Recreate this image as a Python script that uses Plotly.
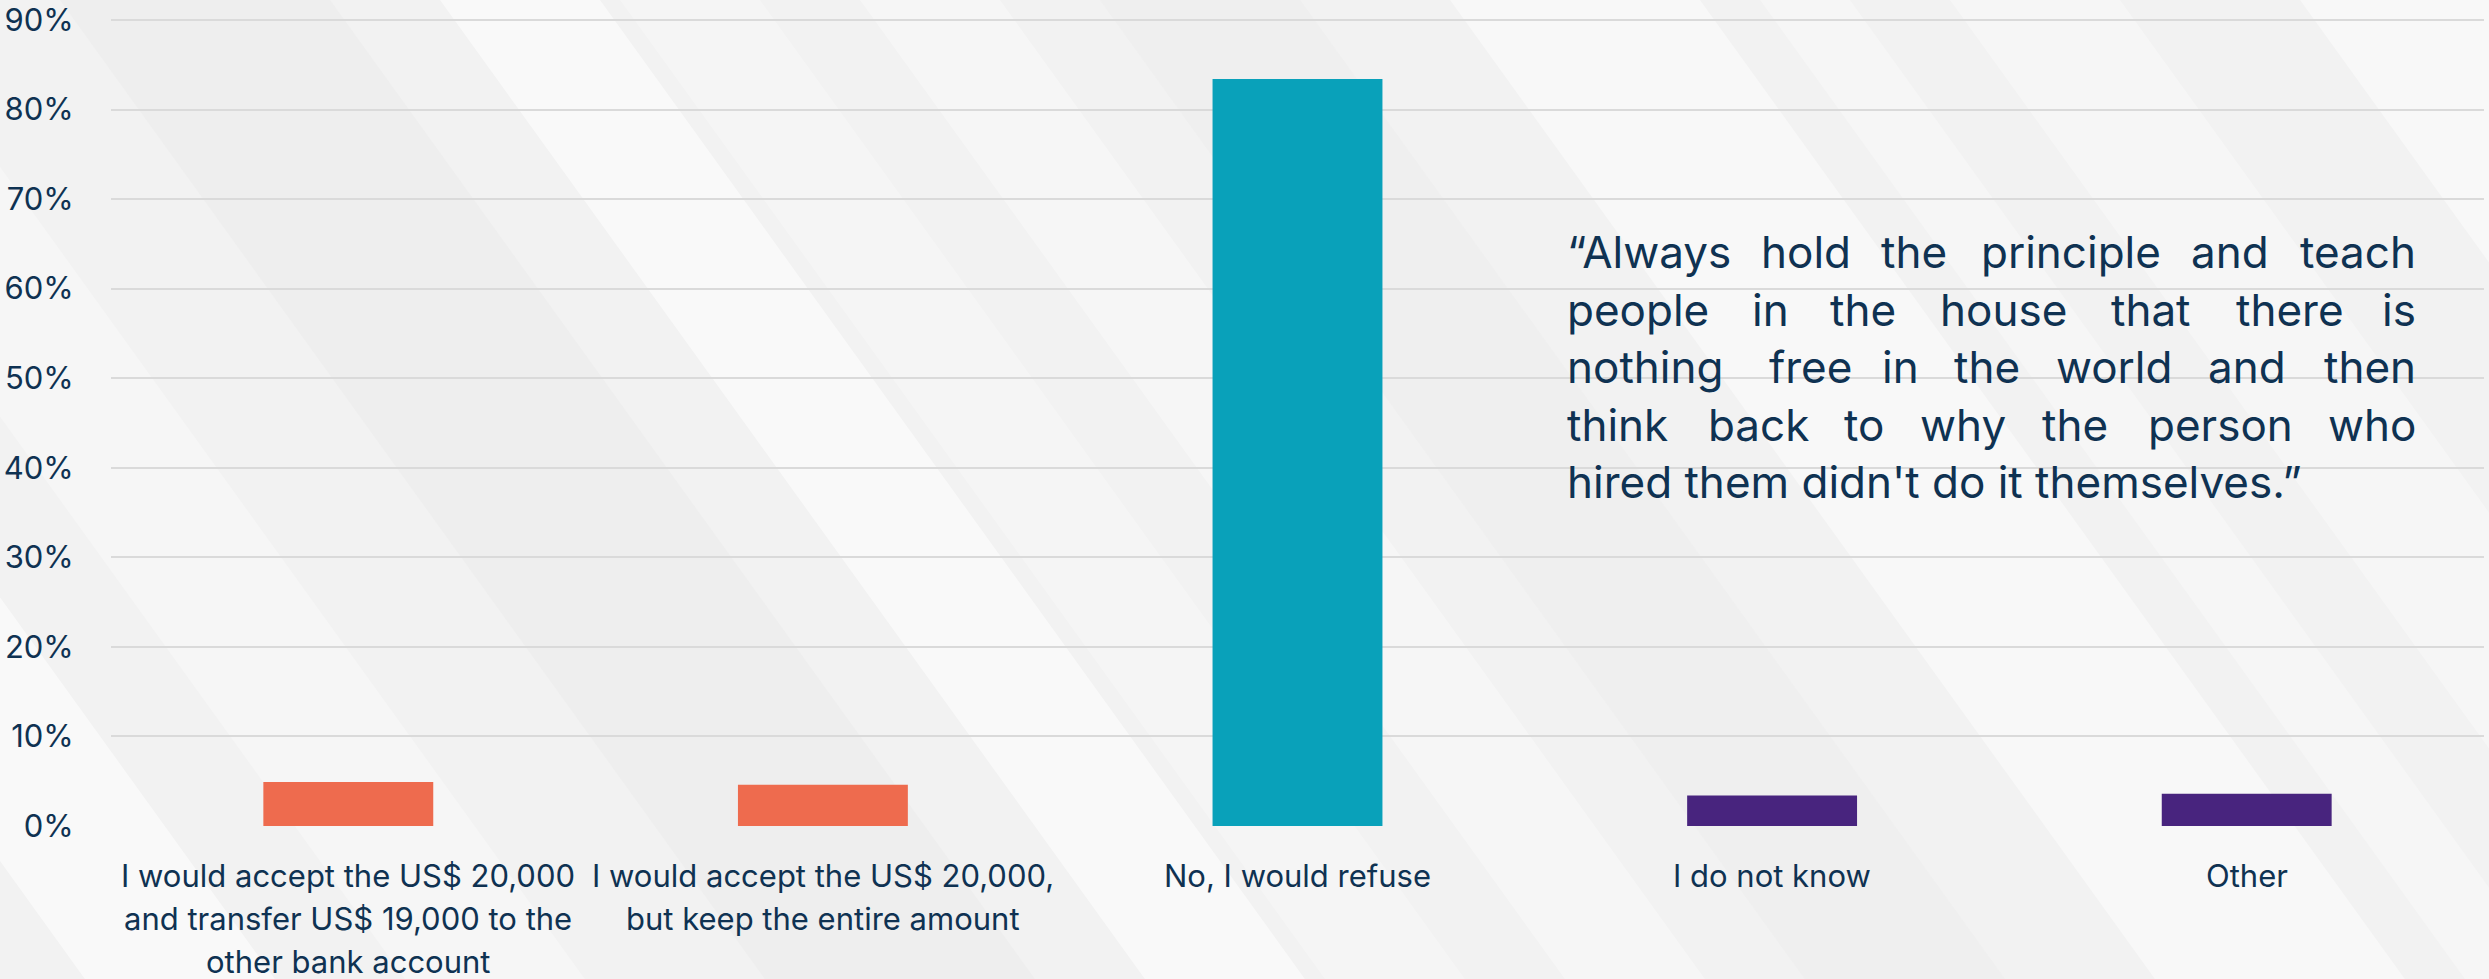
import plotly.graph_objects as go

# ---- data ----
categories = [
    "I would accept the US$ 20,000<br>and transfer US$ 19,000 to the<br>other bank account",
    "I would accept the US$ 20,000,<br>but keep the entire amount",
    "No, I would refuse",
    "I do not know",
    "Other",
]
shares = [4.9, 4.6, 83.4, 3.4, 3.6]
bar_colors = ["#EE6B4E", "#EE6B4E", "#09A1BA", "#48247E", "#48247E"]
y_ticks = [0, 10, 20, 30, 40, 50, 60, 70, 80, 90]
y_tick_text = [f"{v}%" for v in y_ticks]

quote_lines = [
    ["\u201cAlways", "hold", "the", "principle", "and", "teach"],
    ["people", "in", "the", "house", "that", "there", "is"],
    ["nothing", "free", "in", "the", "world", "and", "then"],
    ["think", "back", "to", "why", "the", "person", "who"],
]
quote_last = "hired them didn't do it themselves.\u201d"

# ---- layout geometry (pixels) ----
W, H = 2489, 979
L, R, T, B = 111, 5, 11, 153
PW, PH = W - L - R, H - T - B
NAVY = "#0F3252"
FONT = "Inter"


def px_x(px):
    return (px - L) / PW


def px_y(py):
    return (H - B - py) / PH


fig = go.Figure()
fig.add_trace(go.Bar(
    x=categories, y=shares, marker=dict(color=bar_colors, line_width=0),
    hoverinfo="x+y",
))

# diagonal light bands in the background
shapes = []
SLOPE = 0.72  # horizontal drift per vertical pixel


def band(x0, x1, color):
    dx = SLOPE * H
    pts = [(x0, 0), (x1, 0), (x1 + dx, H), (x0 + dx, H)]
    path = "M " + " L ".join(f"{px_x(x)},{px_y(y)}" for x, y in pts) + " Z"
    shapes.append(dict(type="path", path=path, xref="paper", yref="paper",
                       fillcolor=color, line_width=0, layer="below"))


band(60, 330, "rgba(228,228,228,0.3)")
band(-620, -430, "rgba(255,255,255,0.55)")
band(-300, -120, "rgba(255,255,255,0.3)")
band(440, 600, "rgba(255,255,255,0.55)")
band(620, 760, "rgba(255,255,255,0.25)")
band(860, 1000, "rgba(255,255,255,0.35)")
band(1100, 1300, "rgba(230,230,230,0.25)")
band(1450, 1700, "rgba(255,255,255,0.45)")
band(1760, 1850, "rgba(255,255,255,0.3)")
band(1950, 2120, "rgba(255,255,255,0.35)")
band(2300, 2489, "rgba(255,255,255,0.45)")

annotations = []

# category labels, one annotation per line
LBL_SIZE = 31
for cat in categories:
    for i, line in enumerate(cat.split("<br>")):
        base = 887 + 43 * i
        annotations.append(dict(
            x=cat, xref="x", y=px_y(base - 0.36 * LBL_SIZE), yref="paper",
            text=line, showarrow=False, xanchor="center", yanchor="middle",
            font=dict(family=FONT, size=LBL_SIZE, color=NAVY),
        ))

# justified quote block
Q_SIZE = 44
Q_LEFT, Q_RIGHT = 1565, 2418
q_baselines = [268, 325.5, 383, 440.5, 498]
q_mid_centers = [
    [1806, 1914, 2071, 2230],
    [1770, 1863, 2003, 2151, 2290],
    [1810, 1900, 1987, 2114, 2247],
    [1758, 1864, 1963, 2075, 2220],
]
for words, mids, base in zip(quote_lines, q_mid_centers, q_baselines):
    yc = px_y(base - 0.36 * Q_SIZE)
    xs = [(Q_LEFT, "left")] + [(m, "center") for m in mids] + [(Q_RIGHT, "right")]
    for w, (xp, anchor) in zip(words, xs):
        annotations.append(dict(
            x=px_x(xp), xref="paper", y=yc, yref="paper", text=w,
            showarrow=False, xanchor=anchor, yanchor="middle",
            font=dict(family=FONT, size=Q_SIZE, color=NAVY),
        ))
annotations.append(dict(
    x=px_x(Q_LEFT), xref="paper", y=px_y(q_baselines[4] - 0.36 * Q_SIZE),
    yref="paper", text=quote_last, showarrow=False, xanchor="left",
    yanchor="middle", font=dict(family=FONT, size=Q_SIZE, color=NAVY),
))

fig.update_layout(
    width=W, height=H,
    margin=dict(l=L, r=R, t=T, b=B, pad=0),
    paper_bgcolor="#F2F2F2",
    plot_bgcolor="rgba(0,0,0,0)",
    bargap=0.642,
    showlegend=False,
    shapes=shapes,
    annotations=annotations,
    font=dict(family=FONT, color=NAVY),
    xaxis=dict(showticklabels=False, showgrid=False, zeroline=False,
               showline=False, ticks=""),
    yaxis=dict(range=[0, 91], tickvals=y_ticks, ticktext=y_tick_text,
               tickfont=dict(family=FONT, size=31, color=NAVY),
               showgrid=True, gridcolor="#DADADA", gridwidth=2,
               zeroline=False, showline=False,
               ticks="outside", ticklen=30, tickcolor="rgba(0,0,0,0)",
               ticklabeloverflow="allow", automargin=False),
)

fig.write_html("out.html")
